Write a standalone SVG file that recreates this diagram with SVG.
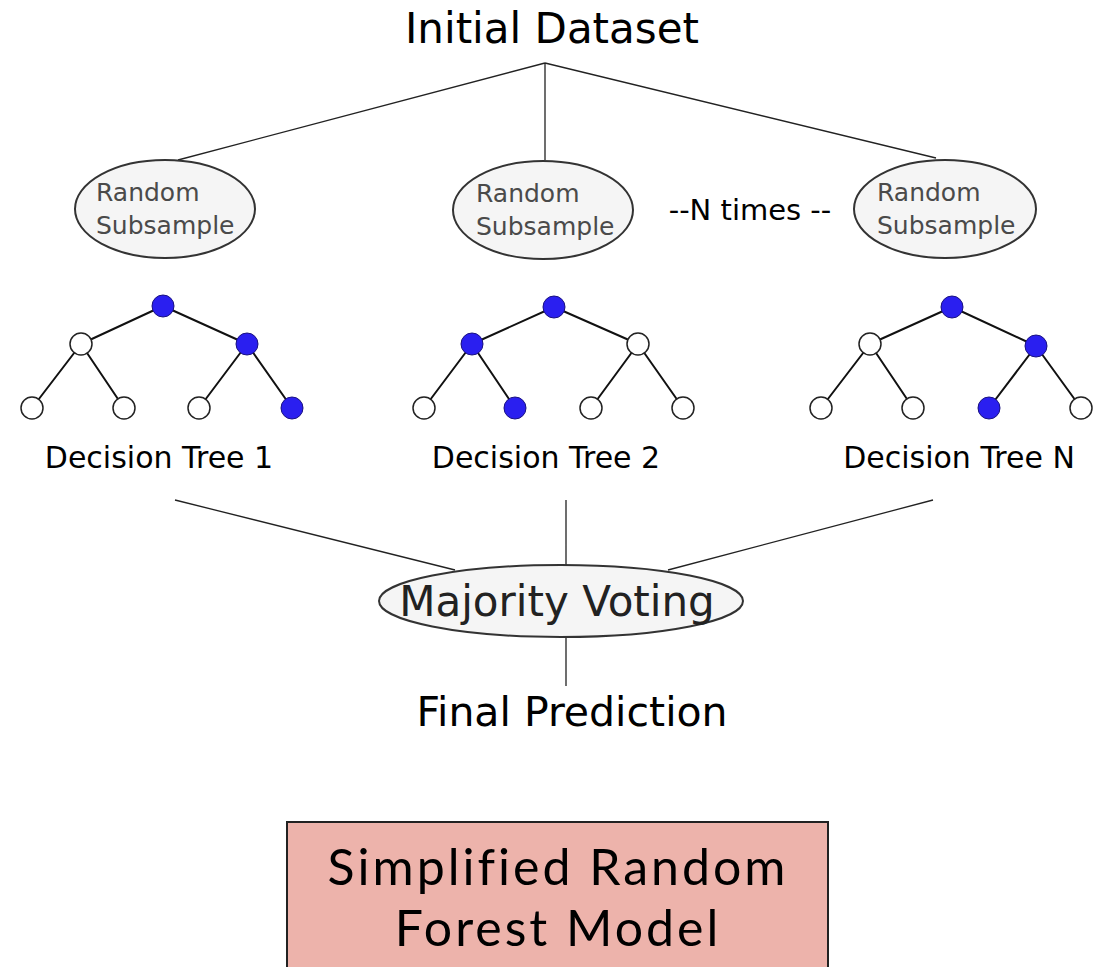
<svg xmlns="http://www.w3.org/2000/svg" width="1094" height="967" viewBox="0 0 1094 967">
<style>
.t{font-family:"DejaVu Sans",Verdana,sans-serif;fill:#000;text-anchor:middle}
.e{fill:#f5f5f5;stroke:#333;stroke-width:2}
.et{font-family:"DejaVu Sans",Verdana,sans-serif;fill:#4a4a4a;font-size:25px;text-anchor:start}
.l{stroke:#222;stroke-width:1.3;fill:none}
.te{stroke:#111;stroke-width:2;fill:none}
.b{fill:#2a1ff0;stroke:#1a1280;stroke-width:1}
.w{fill:#fff;stroke:#222;stroke-width:1.5}
.bx{font-family:Lato,"Open Sans",sans-serif;fill:#000;text-anchor:middle;font-size:50px;letter-spacing:3px}
</style>
<rect width="1094" height="967" fill="#fff"/>
<g id="connectors">
<path class="l" d="M545,63 L178,160 M545,63 L545,160 M545,63 L936,158"/>
<path class="l" d="M175,500 L455,570 M566,500 L566,565 M933,500 L668,570 M566,638 L566,686"/>
</g>
<g id="initial"><text class="t" x="552" y="43" font-size="42">Initial Dataset</text></g>
<g id="sub1"><ellipse class="e" cx="165" cy="209" rx="90" ry="49"/><text class="et" x="96" y="201">Random</text><text class="et" x="96" y="234">Subsample</text></g>
<g id="sub2"><ellipse class="e" cx="543" cy="210" rx="90" ry="49"/><text class="et" x="476" y="202">Random</text><text class="et" x="476" y="235">Subsample</text></g>
<g id="ntimes"><text class="t" x="750" y="220" font-size="29">--N times --</text></g>
<g id="sub3"><ellipse class="e" cx="945" cy="209" rx="91" ry="49"/><text class="et" x="877" y="201">Random</text><text class="et" x="877" y="234">Subsample</text></g>
<g id="tree1">
<path class="te" d="M163,306 L81,344 M163,306 L247,344 M81,344 L32,408 M81,344 L124,408 M247,344 L199,408 M247,344 L292,408"/>
<circle class="b" cx="163" cy="306" r="11"/><circle class="w" cx="81" cy="344" r="11"/><circle class="b" cx="247" cy="344" r="11"/>
<circle class="w" cx="32" cy="408" r="11"/><circle class="w" cx="124" cy="408" r="11"/><circle class="w" cx="199" cy="408" r="11"/><circle class="b" cx="292" cy="408" r="11"/>
<text class="t" x="159" y="468" font-size="30">Decision Tree 1</text>
</g>
<g id="tree2">
<path class="te" d="M554,307 L472,344 M554,307 L638,344 M472,344 L424,408 M472,344 L515,408 M638,344 L591,408 M638,344 L683,408"/>
<circle class="b" cx="554" cy="307" r="11"/><circle class="b" cx="472" cy="344" r="11"/><circle class="w" cx="638" cy="344" r="11"/>
<circle class="w" cx="424" cy="408" r="11"/><circle class="b" cx="515" cy="408" r="11"/><circle class="w" cx="591" cy="408" r="11"/><circle class="w" cx="683" cy="408" r="11"/>
<text class="t" x="546" y="468" font-size="30">Decision Tree 2</text>
</g>
<g id="treeN">
<path class="te" d="M952,307 L870,344 M952,307 L1036,346 M870,344 L821,408 M870,344 L913,408 M1036,346 L989,408 M1036,346 L1081,408"/>
<circle class="b" cx="952" cy="307" r="11"/><circle class="w" cx="870" cy="344" r="11"/><circle class="b" cx="1036" cy="346" r="11"/>
<circle class="w" cx="821" cy="408" r="11"/><circle class="w" cx="913" cy="408" r="11"/><circle class="b" cx="989" cy="408" r="11"/><circle class="w" cx="1081" cy="408" r="11"/>
<text class="t" x="959" y="468" font-size="30">Decision Tree N</text>
</g>
<g id="voting"><ellipse class="e" cx="561" cy="601" rx="182" ry="36"/><text class="t" x="557" y="616" font-size="42" style="fill:#222">Majority Voting</text></g>
<g id="final"><text class="t" x="572" y="726" font-size="41">Final Prediction</text></g>
<g id="title"><rect x="287" y="822" width="541" height="160" fill="#edb3ab" stroke="#222" stroke-width="2"/>
<text class="bx" x="558" y="885">Simplified Random</text>
<text class="bx" x="558" y="946">Forest Model</text></g>
</svg>
